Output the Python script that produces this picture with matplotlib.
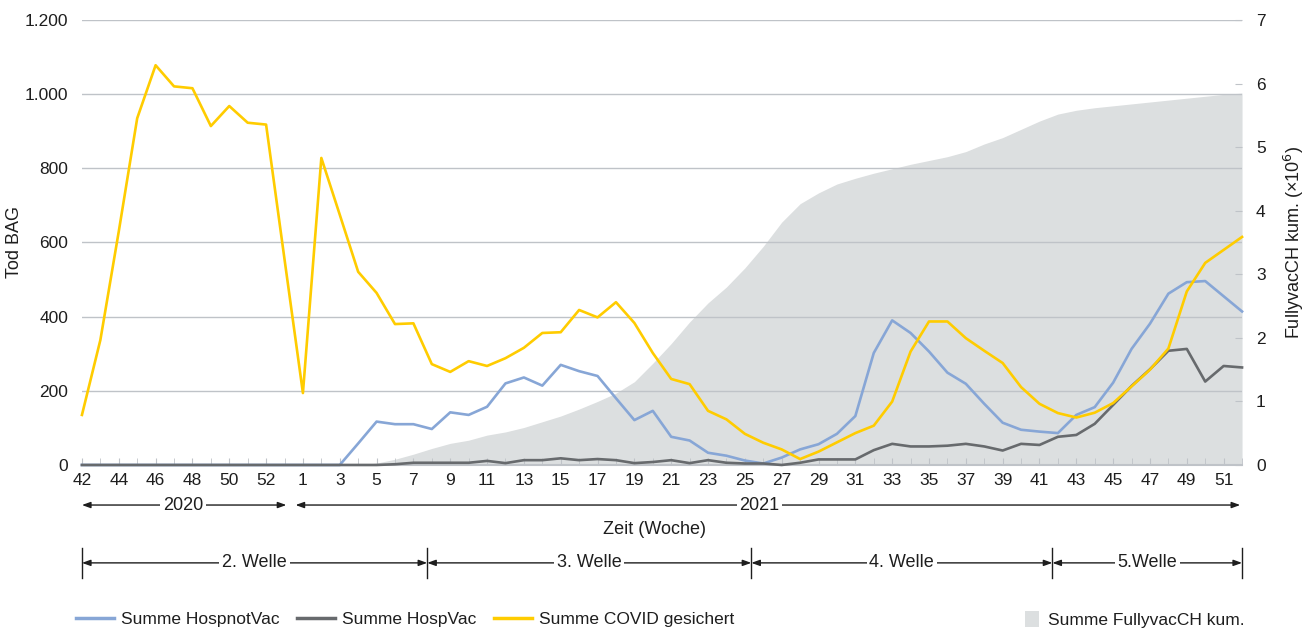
import matplotlib
matplotlib.use("Agg")
import matplotlib.pyplot as plt
import numpy as np
from matplotlib.lines import Line2D
from matplotlib.patches import Patch
from matplotlib.ticker import FuncFormatter

plt.rcParams["font.family"] = ["Liberation Sans", "DejaVu Sans"]

# Calendar weeks: 2020 wk42..53, 2021 wk1..52
weeks = list(range(42, 54)) + list(range(1, 53))

covid_gesichert = [
    135, 337, 630, 935, 1078, 1021, 1016, 914, 968, 923, 918, 555,
    194, 828, 675, 521, 464, 380, 382, 272, 251, 280, 267, 288, 316, 356,
    358, 418, 398, 439, 383, 302, 232, 218, 146, 123, 84, 60, 42, 16, 36,
    61, 86, 106, 171, 306, 387, 387, 342, 308, 275, 210, 165, 140, 128,
    141, 167, 212, 257, 314, 468, 545, 580, 615,
]
hosp_not_vac = [
    0, 0, 0, 0, 0, 0, 0, 0, 0, 0, 0, 0,
    0, 0, 0, 58, 117, 110, 110, 97, 142, 135, 157, 220, 236, 214,
    270, 253, 240, 180, 121, 146, 76, 66, 33, 25, 12, 4, 20, 42, 56,
    84, 132, 302, 390, 356, 306, 249, 219, 165, 114, 95, 90, 86, 135,
    156, 222, 313, 381, 462, 493, 496, 455, 414,
]
hosp_vac = [
    0, 0, 0, 0, 0, 0, 0, 0, 0, 0, 0, 0,
    0, 0, 0, 0, 0, 2, 6, 6, 6, 6, 11, 5, 13, 13,
    18, 13, 16, 13, 5, 8, 13, 5, 13, 6, 4, 4, 0, 6, 15,
    15, 15, 40, 57, 50, 50, 52, 57, 50, 39, 57, 54, 76, 81,
    111, 162, 213, 258, 308, 313, 225, 267, 263,
]
fullyvac_mio = [
    0, 0, 0, 0, 0, 0, 0, 0, 0, 0, 0, 0,
    0, 0, 0, 0, 0.03, 0.09, 0.17, 0.26, 0.34, 0.39, 0.47, 0.52, 0.59, 0.68,
    0.77, 0.88, 1.00, 1.13, 1.31, 1.60, 1.91, 2.25, 2.55, 2.80, 3.10, 3.44, 3.82, 4.11, 4.28,
    4.42, 4.51, 4.59, 4.66, 4.73, 4.79, 4.85, 4.93, 5.05, 5.15, 5.28, 5.41, 5.52, 5.58,
    5.62, 5.65, 5.68, 5.71, 5.74, 5.77, 5.80, 5.83, 5.85,
]

waves = ["2. Welle", "3. Welle", "4. Welle", "5.Welle"]
wave_bounds = [0, 18.75, 36.35, 52.7, 63]

BLUE = "#87a6d6"
DARK = "#676a6d"
YELLOW = "#ffcc00"
AREA = "#dcdfe0"
GRID = "#bfc3c8"
TXT = "#1e1e1e"
FS = 13
TFS = 12.5  # tick / legend text

x = np.arange(len(weeks))

fig = plt.figure(figsize=(13.07, 6.31), dpi=100)
ax = fig.add_subplot(111)
fig.subplots_adjust(left=0.0627, right=0.9503, top=0.9683, bottom=0.2631)
ax2 = ax.twinx()

# area on the secondary axis, drawn behind
ax2.fill_between(x, fullyvac_mio, 0, color=AREA, lw=0)
ax2.set_ylim(0, 7)
ax2.set_yticks(range(8))
ax2.tick_params(axis="y", direction="in", length=5, color=GRID, pad=10,
                labelsize=TFS, labelcolor=TXT)
ax2.set_ylabel("FullyvacCH kum. (×10$^{6}$)", fontsize=FS, color=TXT, labelpad=12)
ax.set_zorder(ax2.get_zorder() + 1)
ax.patch.set_visible(False)

ax.plot(x, hosp_not_vac, color=BLUE, lw=1.9, clip_on=False, zorder=3)
ax.plot(x, hosp_vac, color=DARK, lw=1.9, clip_on=False, zorder=3)
ax.plot(x, covid_gesichert, color=YELLOW, lw=1.9, clip_on=False, zorder=3)

ax.set_xlim(0, len(weeks) - 1)
ax.set_ylim(0, 1200)
ax.set_yticks(range(0, 1201, 200))
ax.yaxis.set_major_formatter(FuncFormatter(lambda v, p: f"{int(v):,}".replace(",", ".")))
ax.grid(axis="y", color=GRID, lw=1)
ax.tick_params(axis="y", length=0, pad=10, labelsize=TFS, labelcolor=TXT)
ax.set_ylabel("Tod BAG", fontsize=FS, color=TXT, labelpad=1)

ax.set_xticks(x[::2])
ax.set_xticklabels([str(w) for w in weeks[::2]])
ax.set_xticks(x, minor=True)
ax.tick_params(axis="x", which="both", direction="in", length=5, color=GRID,
               pad=6, labelsize=TFS, labelcolor=TXT)

for a in (ax, ax2):
    for s in ("top", "right", "left", "bottom"):
        a.spines[s].set_visible(False)
ax.spines["bottom"].set_visible(True)
ax.spines["bottom"].set_color(GRID)
ax.spines["bottom"].set_linewidth(1.5)

tr = ax.get_xaxis_transform()
arrow = dict(arrowstyle="<|-|>,head_length=0.5,head_width=0.18", color=TXT, lw=1,
             shrinkA=0, shrinkB=0)
box = dict(facecolor="white", edgecolor="none", pad=2)

# year row
for label, x0, x1, xt in [("2020", 0, 11.1, 5.5), ("2021", 11.6, 62.9, 36.8)]:
    ax.annotate("", xy=(x1, -0.09), xytext=(x0, -0.09), xycoords=tr, textcoords=tr,
                arrowprops=arrow, annotation_clip=False)
    ax.text(xt, -0.09, label, transform=tr, ha="center", va="center",
            fontsize=FS, color=TXT, bbox=box)

ax.text(31.1, -0.146, "Zeit (Woche)", transform=tr, ha="center", va="center",
        fontsize=FS, color=TXT)

# wave row
for b in wave_bounds:
    ax.plot([b, b], [-0.187, -0.254], transform=tr, color=TXT, lw=1, clip_on=False)
for label, x0, x1 in zip(waves, wave_bounds[:-1], wave_bounds[1:]):
    ax.annotate("", xy=(x1, -0.22), xytext=(x0, -0.22), xycoords=tr, textcoords=tr,
                arrowprops=arrow, annotation_clip=False)
    ax.text((x0 + x1) / 2, -0.22, label, transform=tr, ha="center", va="center",
            fontsize=FS, color=TXT, bbox=box)

# legends
handles = [Line2D([], [], color=c, lw=2.5) for c in (BLUE, DARK, YELLOW)]
labels = ["Summe HospnotVac", "Summe HospVac", "Summe COVID gesichert"]
fig.legend(handles, labels, loc="center left", bbox_to_anchor=(0.058, 0.018),
           ncol=3, frameon=False, fontsize=TFS, handlelength=2.2, borderpad=0,
           borderaxespad=0, handletextpad=0.4, columnspacing=1.0, labelcolor=TXT)
fig.legend([Patch(facecolor=AREA, edgecolor="none")], ["Summe FullyvacCH kum."],
           loc="center left", bbox_to_anchor=(0.784, 0.018), frameon=False,
           fontsize=TFS, handlelength=0.85, handleheight=1.0, handletextpad=0.5,
           borderpad=0, borderaxespad=0, labelcolor=TXT)

fig.savefig("out.png", dpi=100)
